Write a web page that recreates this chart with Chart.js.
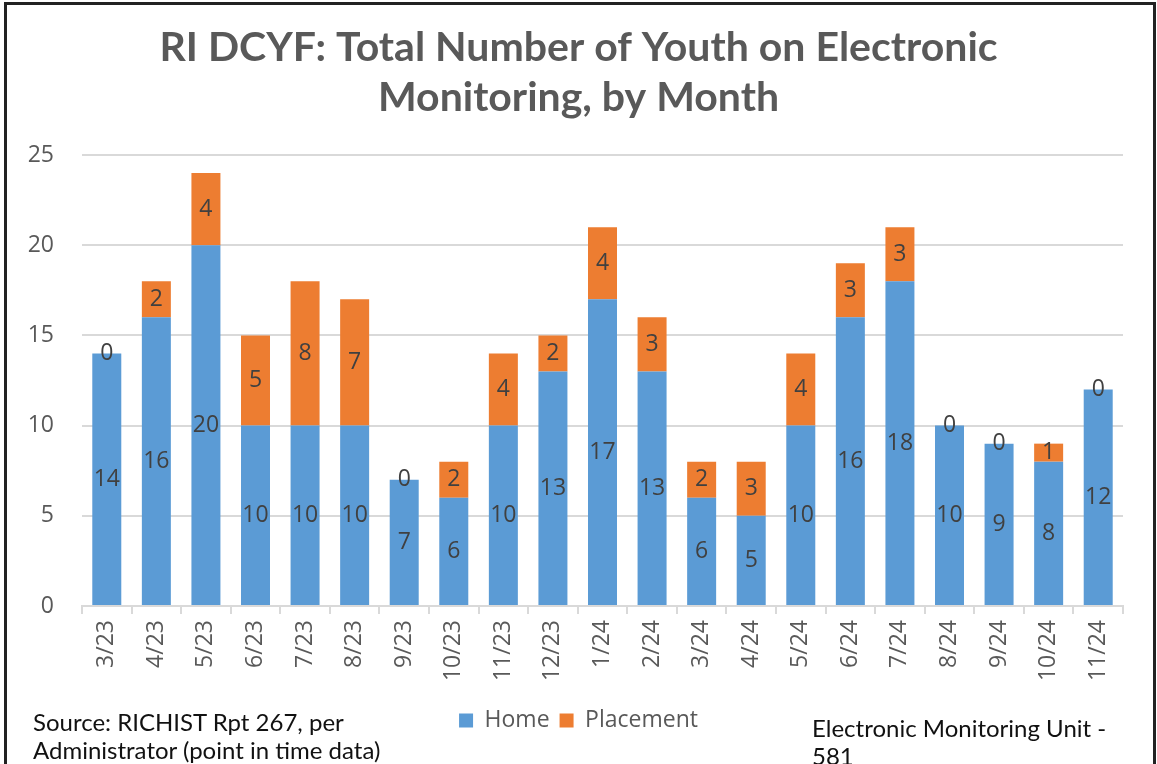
<!DOCTYPE html>
<html>
<head>
<meta charset="utf-8">
<script src="https://cdn.jsdelivr.net/npm/chart.js@4.4.1/dist/chart.umd.min.js"></script>
<style>
  html, body { margin: 0; padding: 0; background: #fff; }
  #wrap { position: relative; width: 1157px; height: 764px; overflow: hidden; }
  #frame { position: absolute; left: 4px; top: 2px; width: 1152px; height: 800px; border: 3px solid #222; box-sizing: border-box; }
  canvas { position: absolute; left: 0; top: 0; }
  .note { position: absolute; font-family: Lato, "Open Sans", sans-serif; font-size: 24px; color: #111; line-height: 28px; white-space: nowrap; }
</style>
</head>
<body>
<div id="wrap">
  <div id="frame"></div>
  <canvas id="myChart" width="1157" height="764"></canvas>
  <div class="note" style="left:33px; top:708px;">Source: RICHIST Rpt 267, per<br>Administrator (point in time data)</div>
  <div class="note" style="left:812px; top:714px;">Electronic Monitoring Unit -<br>581</div>
</div>
<script>
// months on the x axis
const months = ['3/23', '4/23', '5/23', '6/23', '7/23', '8/23', '9/23', '10/23', '11/23', '12/23',
    '1/24', '2/24', '3/24', '4/24', '5/24', '6/24', '7/24', '8/24', '9/24', '10/24', '11/24'];

// youth counts per month
const home = [14, 16, 20, 10, 10, 10, 7, 6, 10, 13, 17, 13, 6, 5, 10, 16, 18, 10, 9, 8, 12];
const placement = [0, 2, 4, 5, 8, 7, 0, 2, 4, 2, 4, 3, 2, 3, 4, 3, 3, 0, 0, 1, 0];

const yTicks = [0, 5, 10, 15, 20, 25];

// value labels in the middle of each bar segment
const segmentLabels = {
    id: 'segmentLabels',
    afterDatasetsDraw(chart) {
        const ctx = chart.ctx;
        ctx.save();
        ctx.font = '23px "Open Sans"';
        ctx.fillStyle = '#404040';
        ctx.textAlign = 'center';
        ctx.textBaseline = 'middle';
        chart.data.datasets.forEach((ds, i) => {
            chart.getDatasetMeta(i).data.forEach((bar, j) => {
                const mid = (bar.y + bar.base) / 2;
                ctx.fillText(ds.data[j], bar.x, mid);
            });
        });
        ctx.restore();
    }
};

const ctx = document.getElementById('myChart').getContext('2d');

const myChart = new Chart(ctx, {
    type: 'bar',
    plugins: [segmentLabels],
    data: {
        labels: months,
        datasets: [{
            label: 'Home',
            data: home,
            backgroundColor: '#5B9BD5',
        }, {
            label: 'Placement',
            data: placement,
            backgroundColor: '#ED7D31',
        }]
    },
    options: {
        responsive: false,
        animation: false,
        layout: {
            padding: { left: 0, right: 0, top: 0, bottom: 22 }
        },
        datasets: {
            bar: { categoryPercentage: 1, barPercentage: 0.585 }
        },
        plugins: {
            title: {
                display: true,
                text: ['RI DCYF: Total Number of Youth on Electronic', 'Monitoring, by Month'],
                color: '#595959',
                font: { family: 'Lato', size: 41, weight: 'bold', lineHeight: 50 / 41 },
                padding: { top: 23, bottom: 32 }
            },
            legend: {
                position: 'bottom',
                labels: {
                    boxWidth: 14,
                    boxHeight: 14,
                    color: '#595959',
                    font: { family: 'Open Sans', size: 23 },
                    padding: 10
                }
            },
            tooltip: { enabled: false }
        },
        scales: {
            x: {
                stacked: true,
                afterFit: (scale) => { scale.height = 93; },
                grid: {
                    offset: true,
                    drawOnChartArea: false,
                    tickLength: 8,
                    color: '#d9d9d9',
                    lineWidth: 2
                },
                border: { color: '#d9d9d9', width: 2 },
                ticks: {
                    color: '#595959',
                    font: { family: 'Open Sans', size: 23 },
                    maxRotation: 90,
                    minRotation: 90,
                    padding: 6,
                    autoSkip: false
                }
            },
            y: {
                stacked: true,
                min: 0,
                max: 25,
                afterFit: (scale) => { scale.width = 82; },
                afterBuildTicks: (scale) => { scale.ticks = yTicks.map(v => ({ value: v })); },
                grid: {
                    drawTicks: false,
                    color: '#d9d9d9',
                    lineWidth: 2
                },
                border: { display: false },
                ticks: {
                    color: '#595959',
                    font: { family: 'Open Sans', size: 23 },
                    padding: 28
                }
            },
            // empty right axis, only keeps the plot clear of the right edge
            yRight: {
                position: 'right',
                min: 0,
                max: 25,
                afterFit: (scale) => { scale.width = 34; },
                grid: { display: false },
                border: { display: false },
                ticks: { display: false }
            }
        }
    }
});
</script>
</body>
</html>
